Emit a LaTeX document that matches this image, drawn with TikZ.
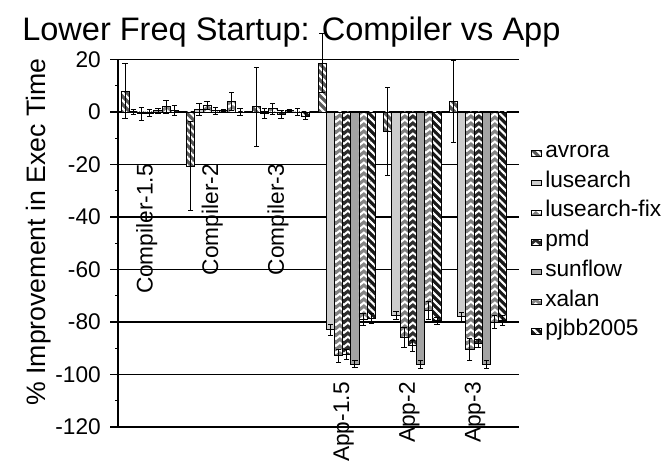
\documentclass[tikz,border=0pt]{standalone}
\usepackage{fontspec}
\setmainfont{Liberation Sans}
\usetikzlibrary{positioning, patterns, patterns.meta, arrows.meta}

% white zigzag for the chevron bars
\pgfdeclarepatternformonly{chevron}{\pgfqpoint{0pt}{0pt}}{\pgfqpoint{6.15pt}{5pt}}{\pgfqpoint{6.15pt}{5pt}}{
	\pgfsetlinewidth{1.6pt}
	\pgfpathmoveto{\pgfqpoint{-1pt}{0.2pt}}
	\pgfpathlineto{\pgfqpoint{3.07pt}{3.4pt}}
	\pgfpathlineto{\pgfqpoint{7.15pt}{0.2pt}}
	\pgfusepath{stroke}
}

\tikzset{
	bar frame/.style={draw=black, line width=0.6pt},
	stripes/.style={pattern={Lines[angle=-45, distance=4.2pt, line width=1.6pt]}, pattern color=white},
	zigzag/.style={pattern=chevron, pattern color=white},
	bar avrora/.style={bar frame, preaction={fill=black!65}, stripes},
	bar lusearch/.style={bar frame, fill=black!20},
	bar lusearch-fix/.style={bar frame, preaction={fill=black!50}, zigzag},
	bar pmd/.style={bar frame, preaction={fill=black!82}, zigzag},
	bar sunflow/.style={bar frame, fill=black!36},
	bar xalan/.style={bar frame, preaction={fill=black!48}, zigzag},
	bar pjbb2005/.style={bar frame, preaction={fill=black!90}, stripes},
	errbar/.style={line width=0.6pt, {Bar[width=4pt]}-{Bar[width=4pt]}},
	grid line/.style={line width=0.85pt},
	small text/.style={font=\fontsize{17}{20}\selectfont, inner sep=0pt},
}

% series/name/{value/error for the six groups}
\def\chartdata{%
	0/avrora/{8/10.5, -20.6/17, 2/15.3, 18.7/11.5, -7.3/17, 4/15.8},%
	1/lusearch/{0/1, 1/2.5, -0.5/2, -83/2.3, -77.5/1.7, -78/1.8},%
	2/lusearch-fix/{-0.7/2.7, 2.4/1.7, 1.2/2.3, -92.8/2.7, -86/4, -90.5/4.3},%
	3/pmd/{-0.4/1.4, 0.5/1.5, -1/1.6, -92.3/2, -89/2.3, -88/1.7},%
	4/sunflow/{0.5/1, 0.5/0.5, 0.5/0.5, -96/1.5, -96/1.7, -96/1.7},%
	5/xalan/{2/2.7, 4/3.7, 0/1.5, -79/2.5, -75.5/3.5, -80/2.7},%
	6/pjbb2005/{0.5/2, 0/1.6, -1.5/1.5, -78.5/2, -79.5/1.5, -79.5/2}}

\begin{document}
\begin{tikzpicture}[x=0.75pt, y=1.96875pt]
	\useasboundingbox (0, 42.667) rectangle (665, -132.95);

	\node[font=\fontsize{24.4}{28}\selectfont, anchor=base west, inner sep=0pt] (title) at (22, 27.4) {Lower Freq Startup: Compiler vs App};
	\node[font=\fontsize{20}{24}\selectfont, rotate=90, inner sep=0pt] (ylabel) at (39, -45.7) {\% Improvement in Exec Time};

	% grid and axis
	\foreach \t in {20,0,...,-120} {
		\draw[grid line] (110, \t) -- (519, \t);
		\node[small text, anchor=east] (tick\t) at (101, \t) {\t};
	}
	\foreach \t in {10,-10,...,-110}
		\draw[grid line] (115, \t) -- (118, \t);
	\draw[grid line] (118, 20) -- (118, -120);

	% bars
	\foreach \s/\st/\vals in \chartdata {
		\foreach \v/\e [count=\g from 0] in \vals
			\draw[bar \st] ({121+65.66*\g+8.2*\s}, 0) rectangle ++(8.2, \v);
	}
	\foreach \s/\st/\vals in \chartdata {
		\foreach \v/\e [count=\g from 0] in \vals
			\draw[errbar] ({125.1+65.66*\g+8.2*\s}, \v-\e) -- ++(0, 2*\e);
	}

	% group labels
	\foreach \lbl [count=\g from 0] in {Compiler-1.5, Compiler-2, Compiler-3}
		\node[small text, rotate=90, anchor=east] (grp\g) at ({146.7+65.66*\g}, -19.8) {\lbl};
	\foreach \lbl [count=\g from 3] in {App-1.5, App-2, App-3}
		\node[small text, rotate=90, anchor=east] (grp\g) at ({146.7+65.66*\g}, -102.9) {\lbl};

	% legend
	\foreach \s/\st/\vals in \chartdata {
		\node[small text, anchor=west, text height=1.6ex, text depth=0.4ex] (leg\s) at (545, {(112-153.3-29.7*\s)/2.625}) {\st};
		\node[bar \st, minimum width=7.5pt, minimum height=4pt, inner sep=0pt, left=2.5pt of leg\s] (key\s) {};
	}
\end{tikzpicture}
\end{document}
